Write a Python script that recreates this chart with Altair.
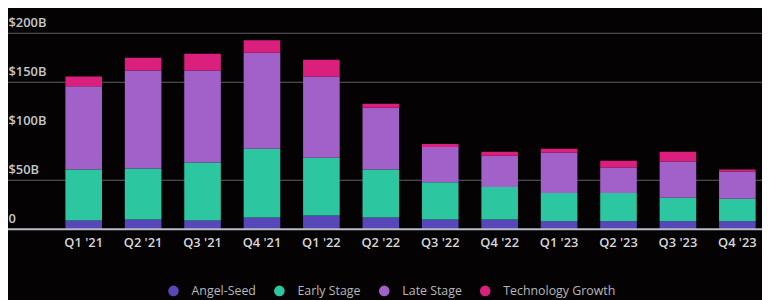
import altair as alt
import pandas as pd

quarters = ["Q1 '21", "Q2 '21", "Q3 '21", "Q4 '21", "Q1 '22", "Q2 '22",
            "Q3 '22", "Q4 '22", "Q1 '23", "Q2 '23", "Q3 '23", "Q4 '23"]
stages = ["Angel-Seed", "Early Stage", "Late Stage", "Technology Growth"]
colors = ["#5847b8", "#2cc6a0", "#a161c9", "#da1f7c"]

angel_seed = [9, 10, 9, 12, 14, 12, 10, 10, 8, 8, 8, 8]
early_stage = [52, 52, 59, 70, 59, 49, 38, 33, 29, 29, 24, 23]
late_stage = [85, 100, 94, 98, 83, 63, 36, 32, 41, 26, 37, 28]
tech_growth = [10, 13, 17, 13, 17, 4, 3, 4, 4, 7, 10, 2]

grid_values = [50, 150, 200]
y_ticks = [0, 50, 100, 150, 200]

rows = []
for series, name in zip([angel_seed, early_stage, late_stage, tech_growth], stages):
    for q, v in zip(quarters, series):
        rows.append({"quarter": q, "stage": name, "value": v, "order": stages.index(name)})
df = pd.DataFrame(rows)

font = "Open Sans"

grid = alt.Chart(pd.DataFrame({"v": grid_values})).mark_rule(
    color="#5e5e62", strokeWidth=1.2
).encode(y=alt.Y("v:Q", scale=alt.Scale(domain=[0, 200])))

bars = alt.Chart(df).mark_bar().encode(
    x=alt.X("quarter:N", sort=quarters,
            scale=alt.Scale(range=[58, 755.6], paddingInner=0.384, paddingOuter=0),
            axis=alt.Axis(title=None, labelAngle=0, ticks=False, domain=False,
                          labelColor="#d6d6d6", labelFont=font, labelFontSize=13,
                          labelFontWeight=600, labelPadding=7)),
    y=alt.Y("value:Q", stack="zero",
            scale=alt.Scale(domain=[0, 200], nice=False),
            axis=alt.Axis(title=None, values=y_ticks, grid=False, ticks=False,
                          domain=False, labelAlign="left", labelBaseline="bottom",
                          labelPadding=0, tickSize=0, labelOffset=-4,
                          labelColor="#c8c8c8", labelFont=font, labelFontSize=13,
                          labelFontWeight=600,
                          labelExpr="datum.value == 0 ? '0' : '$' + datum.value + 'B'")),
    color=alt.Color("stage:N", sort=stages,
                    scale=alt.Scale(domain=stages, range=colors),
                    legend=alt.Legend(title=None, orient="none", direction="horizontal",
                                      legendX=161, legendY=254, symbolType="circle",
                                      symbolSize=115, symbolStrokeWidth=0,
                                      labelColor="#b8b8b8", labelFont=font,
                                      labelFontSize=12.5, labelOffset=12,
                                      columnPadding=17, padding=0)),
    order=alt.Order("order:Q", sort="ascending"),
)

baseline = alt.Chart(pd.DataFrame({"v": [0]})).mark_rule(
    color="#b9bcc8", strokeWidth=2
).encode(y="v:Q")

chart = alt.layer(grid, bars, baseline).properties(
    width=762, height=198,
    autosize=alt.AutoSizeParams(type="none"),
    padding={"left": 0, "top": 24, "right": 0, "bottom": 70},
    background="#040203",
).configure_view(stroke=None)

chart.save("out.html", embed_options={"renderer": "svg", "actions": False})
